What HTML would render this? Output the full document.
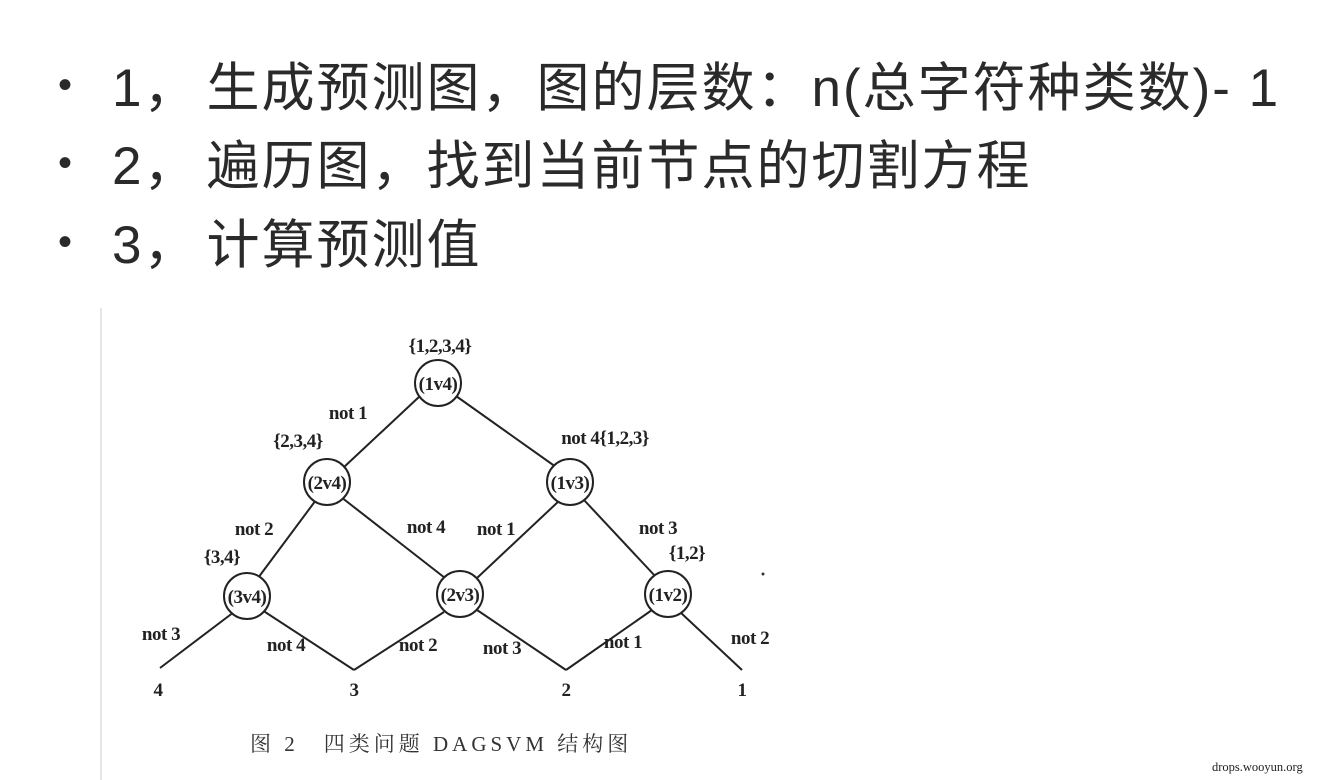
<!DOCTYPE html>
<html><head><meta charset="utf-8"><style>
body{margin:0;width:1318px;height:780px;background:#fff;overflow:hidden;position:relative;font-family:"Liberation Sans","Noto Sans CJK SC",sans-serif;}
.l{position:absolute;left:58px;font-size:53px;color:#2a2a2a;white-space:nowrap;line-height:1;letter-spacing:2px;}
.l b{display:inline-block;width:54px;font-weight:normal;font-size:40px;vertical-align:8px;letter-spacing:0}
.l i{font-style:normal;display:inline-block;margin-right:8px}
svg{position:absolute;left:0;top:0}
.wm{position:absolute;left:1212px;top:760px;font-size:12.5px;font-family:"Liberation Serif",serif;color:#222}
</style></head><body>
<div class="l" style="top:62px"><b>•</b><i>1，</i>生成预测图，图的层数：n(总字符种类数)- 1</div>
<div class="l" style="top:140px"><b>•</b><i>2，</i>遍历图，找到当前节点的切割方程</div>
<div class="l" style="top:219px"><b>•</b><i>3，</i>计算预测值</div>
<svg width="1318" height="780" viewBox="0 0 1318 780">
<line x1="101" y1="308" x2="101" y2="780" stroke="#ddd" stroke-width="1.5"/>
<g stroke="#222" stroke-width="2" fill="none">
<line x1="420" y1="396" x2="343" y2="468"/>
<line x1="456" y1="396" x2="556" y2="467"/>
<line x1="316" y1="500" x2="258" y2="578"/>
<line x1="341" y1="497" x2="445" y2="578"/>
<line x1="560" y1="500" x2="477" y2="578"/>
<line x1="584" y1="500" x2="656" y2="577"/>
<line x1="234" y1="612" x2="160" y2="668"/>
<line x1="262" y1="610" x2="354" y2="670"/>
<line x1="444" y1="612" x2="354" y2="670"/>
<line x1="477" y1="610" x2="566" y2="670"/>
<line x1="652" y1="610" x2="566" y2="670"/>
<line x1="680" y1="612" x2="742" y2="670"/>
<circle cx="438" cy="383" r="23" fill="#fff"/>
<circle cx="327" cy="482" r="23" fill="#fff"/>
<circle cx="570" cy="482" r="23" fill="#fff"/>
<circle cx="247" cy="596" r="23" fill="#fff"/>
<circle cx="460" cy="594" r="23" fill="#fff"/>
<circle cx="668" cy="594" r="23" fill="#fff"/>
</g>
<g font-family="Liberation Serif,serif" font-size="19" font-weight="bold" fill="#222" text-anchor="middle" letter-spacing="-0.5">
<text x="438" y="390">(1v4)</text><text x="327" y="489">(2v4)</text><text x="570" y="489">(1v3)</text>
<text x="247" y="603">(3v4)</text><text x="460" y="601">(2v3)</text><text x="668" y="601">(1v2)</text>
<text x="440" y="352">{1,2,3,4}</text><text x="298" y="447">{2,3,4}</text><text x="605" y="444">not 4{1,2,3}</text>
<text x="348" y="419">not 1</text><text x="254" y="535">not 2</text><text x="426" y="533">not 4</text>
<text x="496" y="535">not 1</text><text x="658" y="534">not 3</text>
<text x="222" y="563">{3,4}</text><text x="687" y="559">{1,2}</text>
<text x="161" y="640">not 3</text><text x="286" y="651">not 4</text><text x="418" y="651">not 2</text>
<text x="502" y="654">not 3</text><text x="623" y="648">not 1</text><text x="750" y="644">not 2</text>
<text x="158" y="696">4</text><text x="354" y="696">3</text><text x="566" y="696">2</text><text x="742" y="696">1</text>
</g>
<circle cx="763" cy="574" r="1.5" fill="#333"/>
<text x="250" y="751" font-family="Liberation Serif,Noto Serif CJK SC,serif" font-size="21" letter-spacing="4" fill="#333">图 2　四类问题 DAGSVM 结构图</text>
</svg>
<div class="wm">drops.wooyun.org</div>
</body></html>
